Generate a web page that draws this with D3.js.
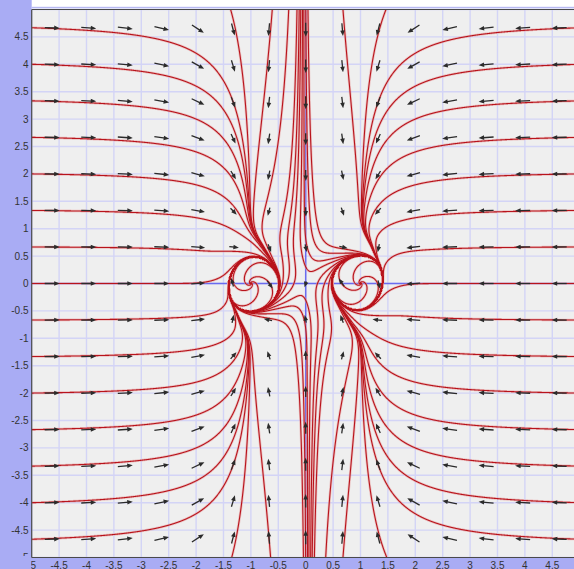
<!DOCTYPE html>
<html>
<head>
<meta charset="utf-8">
<script src="https://cdn.jsdelivr.net/npm/d3@7"></script>
<style>
  html, body { margin: 0; padding: 0; background: #fff; }
  svg { display: block; }
</style>
</head>
<body>
<script>
// ---- chart data -------------------------------------------------------
const xTickVals = [-5, -4.5, -4, -3.5, -3, -2.5, -2, -1.5, -1, -0.5, 0, 0.5, 1, 1.5, 2, 2.5, 3, 3.5, 4, 4.5];
const yTickVals = [-5, -4.5, -4, -3.5, -3, -2.5, -2, -1.5, -1, -0.5, 0, 0.5, 1, 1.5, 2, 2.5, 3, 3.5, 4, 4.5];
const gridVals  = [-5, -4.5, -4, -3.5, -3, -2.5, -2, -1.5, -1, -0.5, 0, 0.5, 1, 1.5, 2, 2.5, 3, 3.5, 4, 4.5, 5];

// positions where direction arrows are sampled
const arrowX = [-4.667, -4, -3.333, -2.667, -2, -1.333, -0.667, 0, 0.667, 1.333, 2, 2.667, 3.333, 4, 4.667];
const arrowY = [-4.667, -4, -3.333, -2.667, -2, -1.333, -0.667, 0, 0.667, 1.333, 2, 2.667, 3.333, 4, 4.667];

// streamline seeds
const leftSeedY   = [4.667, 4, 3.333, 2.667, 2, 1.333, 0.667, 0, -0.667, -1.333, -2, -2.667, -3.333, -4, -4.667];
const rightSeedY  = [4.667, 4, 3.333, 2.667, 2, 1.333, 0.667, 0, -0.667, -1.333, -2, -2.667, -3.333, -4, -4.667];
const topSeedX    = [-1.37, -0.61, -0.31, 0.68, 1.465];
const bottomSeedX = [-1.35, -0.64, 0.365, 0.68, 1.48];
const bundleOffsets = [-0.09, -0.05, -0.022, 0.01, 0.035, 0.07, 0.11];
const spiralSeedAngles = [0, 90, 180, 270];
const foci = [[1, 0], [-1, 0]];

// vector field parameters
const B0 = 0.85, B1 = 0.5, SIG_B2 = 0.25;      // vertical contraction, stronger near x = 0
const MU = 7, RHO0 = 0.6, SIG_R = 0.55;         // growth / limit-cycle term around each focus
const OMEGA = 6, SIG_W = 0.6;                   // clockwise swirl around each focus
const S = 0.04;                                 // slight shear along the vertical axis

function field(x, y) {
  const b = B0 + B1 * Math.exp(-x * x / SIG_B2);
  let fx = x - x * x * x + S * Math.tanh(2 * y) * Math.exp(-x * x / 0.1);
  let fy = -b * y;
  for (const [cx, cy] of foci) {
    const u = x - cx, v = y - cy, r2 = u * u + v * v;
    const q = r2 / (SIG_R * SIG_R);
    const wr = Math.exp(-q * q);
    const ww = Math.exp(-r2 / (SIG_W * SIG_W));
    const g = MU * wr * (1 - r2 / (RHO0 * RHO0));
    fx += g * u + OMEGA * ww * v;
    fy += g * v - OMEGA * ww * u;
  }
  return [fx, fy];
}

// ---- layout -----------------------------------------------------------
const W = 574, H = 569;
const sx = d3.scaleLinear().domain([-5, 5]).range([31.7, 579.7]);
const sy = d3.scaleLinear().domain([-5, 5]).range([557.5, 9.5]);
const plotL = sx(-5), plotT = sy(5), plotB = sy(-5);

const svg = d3.select("body").append("svg").attr("width", W).attr("height", H);
const defs = svg.append("defs");
defs.append("clipPath").attr("id", "plotClip").append("rect")
  .attr("x", plotL).attr("y", plotT).attr("width", W - plotL).attr("height", plotB - plotT);
defs.append("clipPath").attr("id", "xLabClip").append("rect")
  .attr("x", plotL - 0.5).attr("y", plotB).attr("width", W).attr("height", H - plotB);
defs.append("clipPath").attr("id", "yLabClip").append("rect")
  .attr("x", 0).attr("y", 0).attr("width", plotL).attr("height", plotB - 1.5);

svg.append("rect").attr("width", W).attr("height", H).attr("fill", "#ffffff");
svg.append("rect").attr("x", plotL).attr("y", 6.8).attr("width", W - plotL).attr("height", 1.6).attr("fill", "#b7b9f2");
svg.append("rect").attr("x", plotL).attr("y", plotT).attr("width", W - plotL).attr("height", plotB - plotT).attr("fill", "#efefef");

const plot = svg.append("g").attr("clip-path", "url(#plotClip)");

// grid
plot.append("g").selectAll("line").data(gridVals).join("line")
  .attr("x1", d => sx(d)).attr("x2", d => sx(d)).attr("y1", plotT).attr("y2", plotB)
  .attr("stroke", "#d3d4f6").attr("stroke-width", 1.4);
plot.append("g").selectAll("line").data(gridVals).join("line")
  .attr("y1", d => sy(d)).attr("y2", d => sy(d)).attr("x1", plotL).attr("x2", W)
  .attr("stroke", "#d3d4f6").attr("stroke-width", 1.4);

// axes
plot.append("line").attr("x1", sx(0)).attr("x2", sx(0)).attr("y1", plotT).attr("y2", plotB)
  .attr("stroke", "#6a6cf0").attr("stroke-width", 1.5);
plot.append("line").attr("y1", sy(0)).attr("y2", sy(0)).attr("x1", plotL).attr("x2", W)
  .attr("stroke", "#6a6cf0").attr("stroke-width", 1.5);

// ---- streamline integration (unit-speed RK4) --------------------------
const STEP = 0.006, MAX_STEPS = 2600;
function unitDir(x, y) {
  const [fx, fy] = field(x, y);
  const m = Math.hypot(fx, fy);
  return m < 1e-12 ? [0, 0, 0] : [fx / m, fy / m, m];
}
function trace(x0, y0, sgn) {
  const pts = [[x0, y0]];
  let x = x0, y = y0, prev = null;
  const h = STEP * sgn;
  for (let i = 0; i < MAX_STEPS; i++) {
    const k1 = unitDir(x, y);
    if (k1[2] < 1e-7) break;
    if (prev && (k1[0] * prev[0] + k1[1] * prev[1]) < -0.3) break;
    const k2 = unitDir(x + h / 2 * k1[0], y + h / 2 * k1[1]);
    const k3 = unitDir(x + h / 2 * k2[0], y + h / 2 * k2[1]);
    const k4 = unitDir(x + h * k3[0], y + h * k3[1]);
    x += h / 6 * (k1[0] + 2 * k2[0] + 2 * k3[0] + k4[0]);
    y += h / 6 * (k1[1] + 2 * k2[1] + 2 * k3[1] + k4[1]);
    prev = k1;
    pts.push([x, y]);
    if (x < -5.03 || x > 5.35 || y < -5.03 || y > 5.03) break;
  }
  return pts;
}
function streamline(x0, y0) {
  const back = trace(x0, y0, -1).reverse();
  const fwd = trace(x0, y0, 1);
  return back.concat(fwd.slice(1));
}

// stable direction of the saddle at the origin, followed back to the top edge
function stableTopX() {
  const e = 1e-6;
  const [a, c] = field(e, 0).map(v => v / e);
  const [b, d] = field(0, e).map(v => v / e);
  const tr = a + d, det = a * d - b * c;
  const lam = tr / 2 - Math.sqrt(tr * tr / 4 - det);
  let vx = b, vy = lam - a;
  const n = Math.hypot(vx, vy); vx /= n; vy /= n;
  if (vy < 0) { vx = -vx; vy = -vy; }
  const path = trace(1e-4 * vx, 1e-4 * vy, -1);
  return path[path.length - 1][0];
}
const xm = stableTopX();

const seeds = [];
leftSeedY.forEach(y => seeds.push([-4.999, y]));
rightSeedY.forEach(y => seeds.push([5.0, y]));
topSeedX.forEach(x => seeds.push([x, 4.999]));
bottomSeedX.forEach(x => seeds.push([x, -4.999]));
bundleOffsets.forEach(o => { seeds.push([xm + o, 4.999]); seeds.push([-xm - o, -4.999]); });
foci.forEach(([cx, cy]) => spiralSeedAngles.forEach(a => {
  const t = a * Math.PI / 180;
  seeds.push([cx + 0.02 * Math.cos(t), cy + 0.02 * Math.sin(t)]);
}));

const lines = seeds.map(([x, y]) => streamline(x, y));
const lineGen = d3.line().x(d => sx(d[0])).y(d => sy(d[1]));

const sl = plot.append("g").attr("fill", "none").attr("stroke-linejoin", "round");
sl.selectAll("path.halo").data(lines).join("path").attr("class", "halo")
  .attr("d", lineGen).attr("stroke", "#e79a9a").attr("stroke-opacity", 0.55).attr("stroke-width", 2.6);
sl.selectAll("path.core").data(lines).join("path").attr("class", "core")
  .attr("d", lineGen).attr("stroke", "#b8141c").attr("stroke-width", 1.1);

// ---- direction arrows -------------------------------------------------
const arrows = [];
arrowY.forEach(y => arrowX.forEach(x => {
  let [fx, fy] = field(x, y);
  let m = Math.hypot(fx, fy);
  if (m < 1e-9) { [fx, fy] = field(x - 1e-6, y); m = 0; }
  const ang = Math.atan2(-fy, fx);
  const len = 6 + 9 * Math.tanh(m / 4.5);
  arrows.push({ x, y, ang, len });
}));
const arr = plot.append("g").selectAll("g").data(arrows).join("g")
  .attr("transform", d => `translate(${sx(d.x)},${sy(d.y)}) rotate(${d.ang * 180 / Math.PI})`);
arr.append("line")
  .attr("x1", d => -0.35 * d.len).attr("x2", d => 0.65 * d.len - 4)
  .attr("y1", 0).attr("y2", 0).attr("stroke", "#2b2b2b").attr("stroke-width", 1.3);
arr.append("path")
  .attr("d", d => { const t = 0.65 * d.len; return `M${t},0L${t - 5.5},-2.3L${t - 5.5},2.3Z`; })
  .attr("fill", "#2b2b2b");

// ---- frame and tick labels --------------------------------------------
svg.append("line").attr("x1", plotL).attr("x2", W).attr("y1", plotT).attr("y2", plotT).attr("stroke", "#4a4a4a").attr("stroke-width", 1.2);
svg.append("rect").attr("x", 0).attr("y", 0).attr("width", plotL).attr("height", H).attr("fill", "#a9acf4");
svg.append("rect").attr("x", 0).attr("y", plotB).attr("width", W).attr("height", H - plotB).attr("fill", "#a9acf4");
svg.append("line").attr("x1", plotL).attr("x2", plotL).attr("y1", plotT).attr("y2", plotB).attr("stroke", "#4a4a4a").attr("stroke-width", 1.2);
svg.append("line").attr("x1", plotL).attr("x2", W).attr("y1", plotB).attr("y2", plotB).attr("stroke", "#4a4a4a").attr("stroke-width", 1.2);

const fmt = d => String(d);
svg.append("g").attr("clip-path", "url(#xLabClip)")
  .selectAll("text").data(xTickVals).join("text")
  .attr("x", d => sx(d)).attr("y", 568.5).attr("text-anchor", "middle")
  .attr("font-family", "Liberation Sans, Arial, sans-serif").attr("font-size", 10).attr("fill", "#333")
  .text(fmt);
svg.append("g").attr("clip-path", "url(#yLabClip)")
  .selectAll("text").data(yTickVals).join("text")
  .attr("x", 28.5).attr("y", d => sy(d)).attr("dy", "0.35em").attr("text-anchor", "end")
  .attr("font-family", "Liberation Sans, Arial, sans-serif").attr("font-size", 10).attr("fill", "#333")
  .text(fmt);
</script>
</body>
</html>
